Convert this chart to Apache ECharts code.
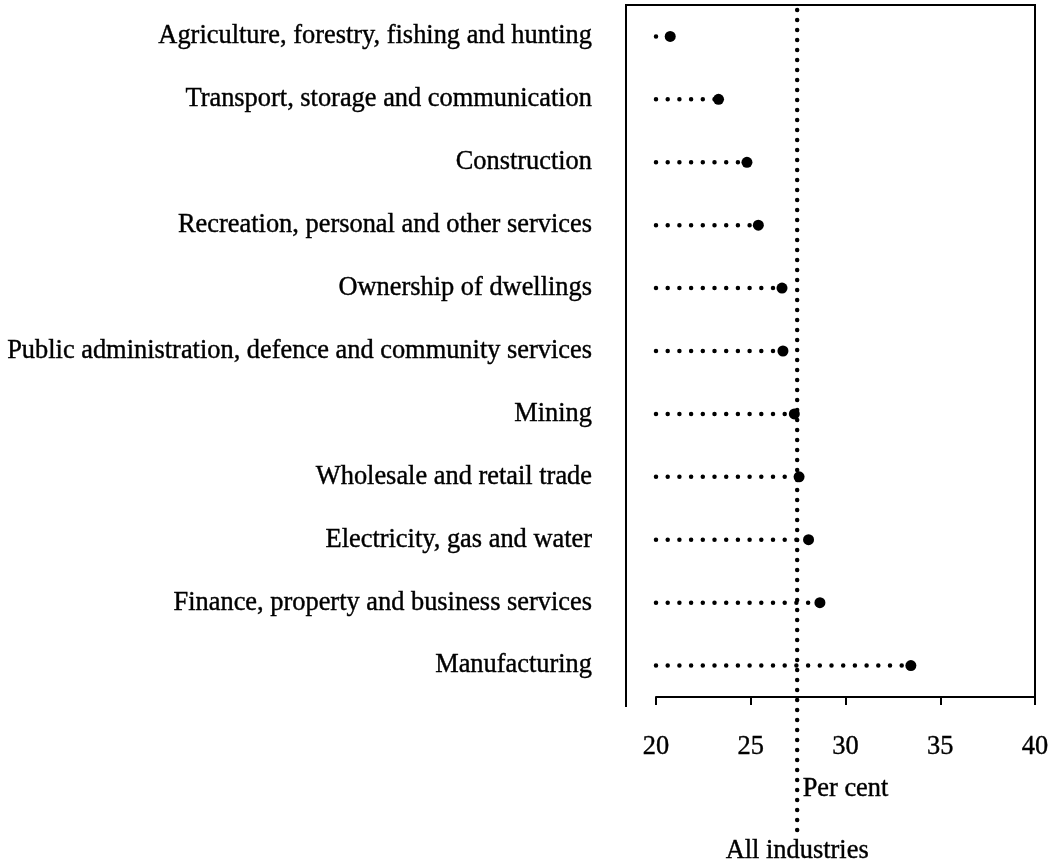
<!DOCTYPE html>
<html>
<head>
<meta charset="utf-8">
<script src="https://cdn.jsdelivr.net/npm/echarts@6/dist/echarts.min.js"></script>
<style>html,body{margin:0;padding:0;background:#fff;}#c{width:1062px;height:864px;}</style>
</head>
<body>
<div id="c"></div>
<script>
const categories = [
  'Agriculture, forestry, fishing and hunting',
  'Transport, storage and communication',
  'Construction',
  'Recreation, personal and other services',
  'Ownership of dwellings',
  'Public administration, defence and community services',
  'Mining',
  'Wholesale and retail trade',
  'Electricity, gas and water',
  'Finance, property and business services',
  'Manufacturing'
];
const values = [20.75, 23.3, 24.8, 25.4, 26.65, 26.7, 27.3, 27.55, 28.05, 28.65, 33.45];
const allIndustries = 27.45;
const baseValue = 20;
const xTicks = [20, 25, 30, 35, 40];

const FONT = 'Liberation Serif';
const TXT = {fontFamily: FONT, fontSize: 26.4, color: '#000', textBorderColor: '#000', textBorderWidth: 0.4};
const chart = echarts.init(document.getElementById('c'), null, {renderer: 'canvas'});

const rowSeries = categories.map((c, i) => ({
  type: 'line',
  xAxisIndex: 0, yAxisIndex: 0,
  data: [[baseValue, c], [values[i], c]],
  symbol: 'none',
  silent: true,
  lineStyle: {color: '#000', width: 4.5, cap: 'round', type: [0, 11.7], opacity: 1},
  z: 2
}));

chart.setOption({
  animation: false,
  backgroundColor: '#fff',
  textStyle: {fontFamily: FONT, color: '#000'},
  grid: [
    {left: 656, right: 27, top: 5, bottom: 167},
    {left: 656, right: 27, top: 10, bottom: 28}
  ],
  xAxis: [
    {
      type: 'value', gridIndex: 0, min: xTicks[0], max: xTicks[xTicks.length - 1], interval: 5,
      position: 'bottom',
      axisLine: {show: true, lineStyle: {color: '#000', width: 2}},
      axisTick: {show: true, length: 8, lineStyle: {color: '#000', width: 2}},
      axisLabel: Object.assign({margin: 37}, TXT),
      splitLine: {show: false},
      name: 'Per cent', nameLocation: 'middle', nameGap: 79,
      nameTextStyle: Object.assign({}, TXT)
    },
    {type: 'value', gridIndex: 1, min: 20, max: 40, show: false}
  ],
  yAxis: [
    {
      type: 'category', gridIndex: 0, data: categories, inverse: true,
      axisLine: {show: false}, axisTick: {show: false},
      axisLabel: Object.assign({margin: 64}, TXT),
      splitLine: {show: false}
    },
    {type: 'value', gridIndex: 1, min: 0, max: 1, show: false}
  ],
  graphic: [{
    type: 'polyline',
    shape: {points: [[626, 707], [626, 5], [1035, 5], [1035, 697]]},
    style: {stroke: '#000', lineWidth: 2, fill: null},
    silent: true
  }],
  series: rowSeries.concat([
    {
      type: 'scatter', xAxisIndex: 0, yAxisIndex: 0,
      data: categories.map((c, i) => [values[i], c]),
      symbol: 'circle', symbolSize: 11,
      itemStyle: {color: '#000', opacity: 1}, z: 5, silent: true
    },
    {
      type: 'line', xAxisIndex: 1, yAxisIndex: 1,
      data: [
        {value: [allIndustries, 1], symbolSize: 0},
        {value: [allIndustries, 0], symbolSize: 0,
         label: Object.assign({show: true, position: 'bottom', distance: 2, formatter: 'All industries'}, TXT)}
      ],
      symbol: 'circle', showSymbol: true, silent: true, clip: false,
      lineStyle: {color: '#000', width: 4.5, cap: 'round', type: [0, 10]},
      z: 3
    }
  ])
});
</script>
</body>
</html>
